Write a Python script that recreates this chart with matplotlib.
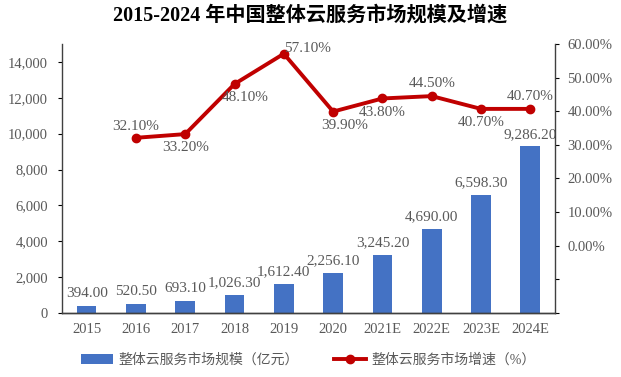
import matplotlib.pyplot as plt
import numpy as np
from matplotlib.ticker import FuncFormatter

plt.rcParams['font.family'] = ['Liberation Serif', 'Noto Sans CJK SC']

years = ['2015', '2016', '2017', '2018', '2019', '2020', '2021E', '2022E', '2023E', '2024E']
market_size = [394.00, 520.50, 693.10, 1026.30, 1612.40, 2256.10, 3245.20, 4690.00, 6598.30, 9286.20]
growth = [np.nan, 32.10, 33.20, 48.10, 57.10, 39.90, 43.80, 44.50, 40.70, 40.70]
# label offsets in points (dx, dy) for the growth labels
growth_offsets = [None, (0, 8), (0, -10), (8, -10), (17, 4), (8, -10), (0, -10), (0, 9), (0, -10), (0, 9)]

bar_color = '#4472C4'
line_color = '#C00000'
text_color = '#595959'

fig = plt.figure(figsize=(6.21, 3.77), dpi=100)
ax = fig.add_axes([0.0998, 0.1698, 0.7939, 0.7135])
ax2 = ax.twinx()

x = np.arange(len(years))
ax.bar(x, market_size, width=0.4, color=bar_color, label='整体云服务市场规模（亿元）', zorder=2)
for xi, v in zip(x, market_size):
    ax.annotate(f'{v:,.2f}', (xi, v), xytext=(0, 4), textcoords='offset points',
                ha='center', va='bottom', fontsize=11, color=text_color)

ax.set_xlim(-0.5, len(years) - 0.5)
ax.set_ylim(0, 15000)
ax.set_yticks(np.arange(0, 14001, 2000))
ax.yaxis.set_major_formatter(FuncFormatter(lambda v, p: f'{v:,.0f}'))
ax.set_xticks(x)
ax.set_xticklabels(years)
ax.tick_params(axis='x', length=0, pad=7, labelsize=10.5, labelcolor=text_color)
ax.tick_params(axis='y', length=3, pad=7, labelsize=10.5, labelcolor=text_color)

ax2.plot(x, growth, color=line_color, lw=2.8, marker='o', ms=6, label='整体云服务市场增速（%）', zorder=3)
for xi, v, off in zip(x, growth, growth_offsets):
    if off is None:
        continue
    ax2.annotate(f'{v:.2f}%', (xi, v), xytext=off, textcoords='offset points',
                 ha='center', va='center', fontsize=11, color=text_color)
ax2.set_ylim(-20, 60)
ax2.set_yticks(np.arange(-20, 61, 10))
ax2.set_yticklabels(['', ''] + [f'{t:.2f}%' for t in range(0, 61, 10)])
ax2.tick_params(axis='y', length=3, pad=6, labelsize=10.5, labelcolor=text_color)

for a in (ax, ax2):
    a.spines['top'].set_visible(False)
    for s in ('left', 'right', 'bottom'):
        a.spines[s].set_color('#404040')
        a.spines[s].set_linewidth(1.0)
ax2.spines['left'].set_visible(False)
ax.spines['right'].set_visible(False)

fig.text(0.5, 0.958, '2015-2024 年中国整体云服务市场规模及增速', ha='center', va='center',
         fontsize=14.5, fontweight='bold', color='black')

h1, l1 = ax.get_legend_handles_labels()
h2, l2 = ax2.get_legend_handles_labels()
fig.legend(h1 + h2, l1 + l2, loc='center', bbox_to_anchor=(0.497, 0.045), ncol=2, frameon=False,
           fontsize=10, labelcolor=text_color, columnspacing=2.5, handlelength=2.3,
           handletextpad=0.4)

fig.savefig('out.png', dpi=100)
